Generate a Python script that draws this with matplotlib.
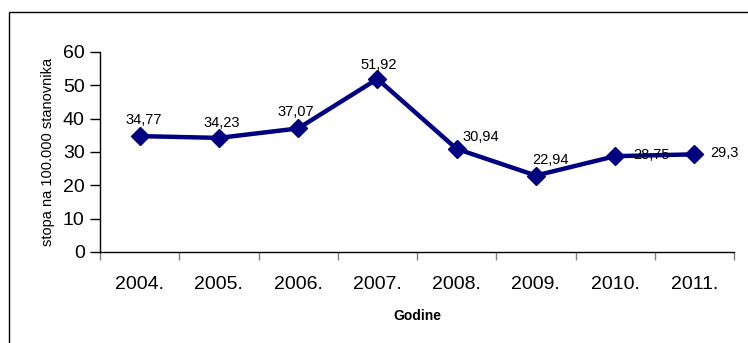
import matplotlib
matplotlib.use('Agg')
import matplotlib.pyplot as plt
from matplotlib.patches import Rectangle

plt.rcParams['font.family'] = ['Liberation Sans', 'DejaVu Sans']

years = ['2004.', '2005.', '2006.', '2007.', '2008.', '2009.', '2010.', '2011.']
rates = [34.77, 34.23, 37.07, 51.92, 30.94, 22.94, 28.75, 29.3]
rate_labels = ['34,77', '34,23', '37,07', '51,92', '30,94', '22,94', '28,75', '29,3']
# label offsets in pixels (dx, dy), mimic the Excel placement
label_offsets = [(4, 16), (3, 15), (-2, 16), (1, 14), (24, 12), (15, 16), (36, 1), (30, 1)]

fig = plt.figure(figsize=(7.48, 3.43), dpi=100)
fig.patches.append(Rectangle((9/748, -0.2), 1.2, 1.2 - 12/343, transform=fig.transFigure,
                             fill=False, edgecolor='black', linewidth=1.0))
ax = fig.add_axes([100/748, 1 - 252/343, 634/748, 200/343])

x = list(range(len(years)))
ax.plot(x, rates, color='#000080', linewidth=3.2, marker='D', markersize=9.5,
        markerfacecolor='#000080', markeredgecolor='#000080')

for i, v in enumerate(rates):
  dx, dy = label_offsets[i]
  ax.annotate(rate_labels[i], (x[i], v), xytext=(dx, dy), textcoords='offset pixels',
              ha='center', va='center', fontsize=10.5)

ax.set_xlim(-0.5, len(years) - 0.5)
ax.set_ylim(0, 60)
ax.set_yticks(range(0, 61, 10))
ax.set_xticks([i - 0.5 for i in range(len(years) + 1)], minor=False)
ax.set_xticklabels([])
ax.set_xticks(x, minor=True)
ax.set_xticklabels(years, minor=True, fontsize=14)
ax.tick_params(axis='x', which='major', length=6, color='#808080', width=1)
ax.tick_params(axis='x', which='minor', length=0, pad=17)
ax.tick_params(axis='y', labelsize=14, length=7, width=1, pad=4)

for s in ['top', 'right']:
  ax.spines[s].set_visible(False)
for s in ['left', 'bottom']:
  ax.spines[s].set_linewidth(1.0)

ax.set_ylabel('stopa na 100.000 stanovnika', fontsize=10.5, labelpad=6)
ax.set_xlabel('Godine', fontsize=10, fontweight='bold', labelpad=12)

fig.savefig('out.png', dpi=100)
